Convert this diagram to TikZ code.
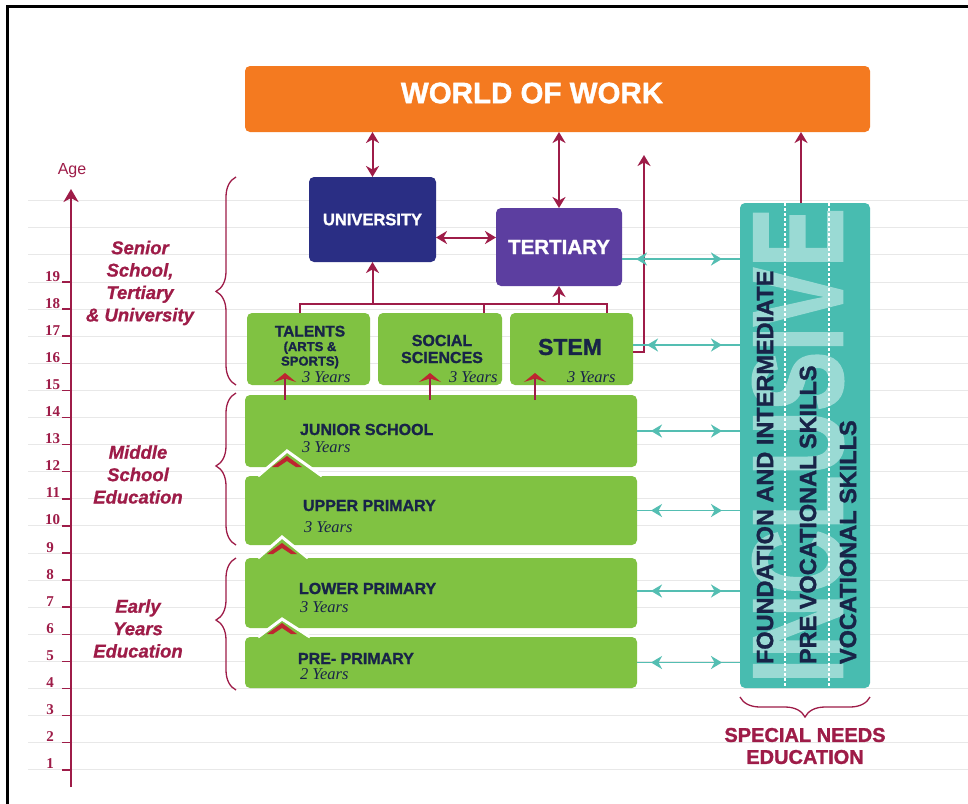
\documentclass[tikz,border=0pt]{standalone}
\usepackage{fontspec}
\setmainfont{Liberation Sans}[BoldFeatures={FakeBold=1.3},BoldItalicFeatures={FakeBold=0.8}]
\newfontfamily\tnr{Liberation Serif}
\usetikzlibrary{arrows.meta,decorations.pathreplacing,decorations.markings,calc}
\definecolor{mar}{RGB}{158,28,72}
\definecolor{orng}{RGB}{244,122,32}
\definecolor{navyb}{RGB}{42,46,132}
\definecolor{purp}{RGB}{92,62,160}
\definecolor{grn}{RGB}{128,194,66}
\definecolor{tl}{RGB}{72,188,176}
\definecolor{tll}{RGB}{84,190,178}
\definecolor{txd}{RGB}{24,36,72}
\definecolor{chev}{RGB}{190,38,48}
\definecolor{gridc}{RGB}{232,232,232}
\begin{document}
\begin{tikzpicture}[x=1pt,y=-1pt,
  every node/.style={inner sep=0pt,outer sep=0pt},
  box/.style={rounded corners=5pt},
  conn/.style={mar,line width=2pt},
  marr/.style={conn,-{Stealth[length=11pt,width=13pt,inset=3.5pt]}},
  darr/.style={conn,{Stealth[length=11pt,width=13pt,inset=3.5pt]}-{Stealth[length=11pt,width=13pt,inset=3.5pt]}},
  uparr/.style={conn,-{Stealth[length=9pt,width=22pt,inset=3.5pt,color=chev]}},
  tarr/.style={color=tll,line width=1.8pt,postaction={decorate,decoration={markings,
     mark=at position 14pt with {\arrowreversed{Stealth[length=11pt,width=13pt,inset=3.5pt]}},
     mark=at position -18pt with {\arrow{Stealth[length=11pt,width=13pt,inset=3.5pt]}}}}},
  brc/.style={mar,line width=1.3pt,decorate},
  sidelab/.style={align=center,text=mar,font=\fontsize{18.5}{22.4}\selectfont\bfseries\itshape},
  btxt/.style={anchor=base west,text=txd,font=\fontsize{16}{16}\selectfont\bfseries},
  yrs/.style={anchor=base west,text=txd,font=\tnr\itshape\fontsize{16.5}{16}\selectfont},
  vtxt/.style={rotate=90,anchor=west,text=txd,font=\fontsize{23.5}{23}\selectfont\bfseries},
  chevf/.style={fill=chev,draw=none},
  peak/.style={fill=grn,draw=none}]
\useasboundingbox (0,0) rectangle (968,803);
\fill[white] (0,0) rectangle (968,803);
% frame
\draw[black,line width=2.2pt] (7.5,812) -- (7.5,6.5) -- (976,6.5);
% grid lines
\foreach \a in {1,...,22}{
  \pgfmathsetmacro\yy{282+(19-\a)*27.1}
  \draw[gridc,line width=1pt] (28,\yy) -- (968,\yy);
}
% age axis
\coordinate (axb) at (71,787);
\coordinate (axt) at (71,189);
\draw[mar,line width=2.5pt,-{Stealth[length=13pt,width=15pt,inset=4pt]}] (axb) -- (axt);
\node[text=mar,font=\fontsize{16}{16}\selectfont] (age) at (72,171) {Age};
\foreach \a in {1,...,19}{
  \pgfmathsetmacro\yy{282+(19-\a)*27.1}
  \draw[mar,line width=1.5pt] (62,\yy) -- (71,\yy);
  \ifnum\a>9
    \node[anchor=base east,text=mar,font=\tnr\bfseries\fontsize{15}{15}\selectfont] (n\a) at (60,\yy-1) {\a};
  \else
    \node[anchor=base,text=mar,font=\tnr\bfseries\fontsize{15}{15}\selectfont] (n\a) at (50,\yy-1) {\a};
  \fi
}
% side labels and braces
\node[sidelab] (lab1) at (140,283) {Senior\\School,\\Tertiary\\\& University};
\node[sidelab] (lab2) at (138,474.5) {Middle\\School\\Education};
\node[sidelab] (lab3) at (138,628.5) {Early\\Years\\Education};
\draw[brc,decoration={brace,amplitude=20pt,aspect=0.45}] (236,385) -- (236,177);
\draw[brc,decoration={brace,amplitude=20pt,aspect=0.52}] (236,545) -- (236,393);
\draw[brc,decoration={brace,amplitude=20pt,aspect=0.53}] (236,690) -- (236,558);

% top boxes
\node[box,fill=orng,minimum width=625pt,minimum height=66pt] (wow) at (557.5,99) {};
\node[text=white,font=\fontsize{29.5}{30}\selectfont\bfseries] (wowt) at (532,93) {WORLD OF WORK};
\node[box,fill=navyb,minimum width=127pt,minimum height=85pt,text=white,font=\fontsize{16.5}{18}\selectfont\bfseries] (uni) at (372.5,219.5) {UNIVERSITY};
\node[box,fill=purp,minimum width=126pt,minimum height=78pt,text=white,font=\fontsize{20.5}{22}\selectfont\bfseries] (ter) at (559,247) {TERTIARY};

% senior boxes
\node[box,fill=grn,minimum width=123pt,minimum height=72pt] (tal) at (308.5,349) {};
\node[box,fill=grn,minimum width=124pt,minimum height=72pt] (soc) at (440,349) {};
\node[box,fill=grn,minimum width=123pt,minimum height=72pt] (stem) at (571.5,349) {};
\node[align=center,text=txd,font=\fontsize{13}{14.5}\selectfont\bfseries] (talt) at (310,347)
  {{\fontsize{15.5}{15}\selectfont TALENTS}\\(ARTS \&\\SPORTS)};
\node[align=center,text=txd,font=\fontsize{16}{17}\selectfont\bfseries] (soct) at (442,349) {SOCIAL\\SCIENCES};
\node[text=txd,font=\fontsize{23}{23}\selectfont\bfseries] (stemt) at (570,347) {STEM};
\node[yrs] (taly) at (302,382) {3 Years};
\node[yrs] (socy) at (449,382) {3 Years};
\node[yrs] (stemy) at (567,382) {3 Years};

% wide boxes with peaks
\node[box,fill=grn,minimum width=392pt,minimum height=72pt] (jun) at (441,431) {};
\node[box,fill=grn,minimum width=392pt,minimum height=69pt] (upp) at (441,510.5) {};
\fill[peak] (258,478) -- (287,451) -- (322,478) -- cycle;
\draw[white,line width=3pt] (258,476) -- (287,451) -- (322,476);
\fill[chevf] (272,467) -- (287,456) -- (302,467) -- (296,467) -- (287,461) -- (278,467) -- cycle;
\node[box,fill=grn,minimum width=392pt,minimum height=70pt] (low) at (441,593) {};
\fill[peak] (258,560) -- (282,537) -- (308,560) -- cycle;
\draw[white,line width=3pt] (258,558) -- (282,537) -- (308,558);
\fill[chevf] (267,554) -- (282,543) -- (297,554) -- (291,554) -- (282,548) -- (273,554) -- cycle;
\node[box,fill=grn,minimum width=392pt,minimum height=51pt] (pre) at (441,662.5) {};
\fill[peak] (258,639) -- (282,619) -- (310,639) -- cycle;
\draw[white,line width=3pt] (258,637) -- (282,619) -- (310,637);
\fill[chevf] (267,634) -- (282,623) -- (297,634) -- (291,634) -- (282,628) -- (273,634) -- cycle;

\node[btxt] (junt) at (300,435) {JUNIOR SCHOOL};
\node[yrs] (juny) at (302,452) {3 Years};
\node[btxt] (uppt) at (303,511) {UPPER PRIMARY};
\node[yrs] (uppy) at (304,532) {3 Years};
\node[btxt] (lowt) at (299,594) {LOWER PRIMARY};
\node[yrs] (lowy) at (300,612) {3 Years};
\node[btxt] (pret) at (298,664) {PRE- PRIMARY};
\node[yrs] (prey) at (300,679) {2 Years};

% special needs box
\node[box,fill=tl,minimum width=130pt,minimum height=485pt] (sn) at (805,445.5) {};
\node[rotate=90,text=tl!55!white] (incl) at (798,445.5) {\resizebox{475pt}{90pt}{\bfseries INCLUSIVE}};
\draw[white,line width=1.6pt,dash pattern=on 2.5pt off 2.5pt] ([xshift=-20pt]sn.north) -- ([xshift=-20pt]sn.south);
\draw[white,line width=1.6pt,dash pattern=on 2.5pt off 2.5pt] ([xshift=24pt]sn.north) -- ([xshift=24pt]sn.south);
\node[vtxt] (fit) at (765,664) {FOUNDATION AND INTERMEDIATE};
\node[vtxt] (pvs) at (808,664) {PRE VOCATIONAL SKILLS};
\node[vtxt] (vs) at (848,664) {VOCATIONAL SKILLS};
\draw[brc,decoration={brace,amplitude=20pt}] (870,697) -- (740,697);
\node[align=center,text=mar,font=\fontsize{20}{22}\selectfont\bfseries] (snl) at (805,746) {SPECIAL NEEDS\\EDUCATION};

% maroon connectors
\draw[darr] (uni.north) -- (uni.north |- wow.south);
\draw[darr] (ter.north) -- (ter.north |- wow.south);
\draw[darr] ([yshift=-18pt]uni.east) -- ([yshift=-18pt]uni.east -| ter.west);
\coordinate (st) at (644,155);
\draw[marr] ([yshift=-3pt]stem.east) -| (st);
\draw[marr] ([xshift=-4pt]sn.north) -- ([xshift=-4pt]sn.north |- wow.south);
\coordinate (b1) at (300,304);
\coordinate (b2) at (607,304);
\coordinate (b3) at (484,304);
\draw[conn] (b1 |- tal.north) -- (b1) -- (b2) -- (b2 |- stem.north);
\draw[conn] (b3) -- (b3 |- soc.north);
\draw[marr] (uni.south |- b1) -- (uni.south);
\draw[marr] (ter.south |- b1) -- (ter.south);
\coordinate (u1) at (285,373);
\coordinate (u2) at (430,373);
\coordinate (u3) at (535,373);
\draw[uparr] ([yshift=-5pt]u1 |- jun.north) -- (u1);
\draw[uparr] ([yshift=-5pt]u2 |- jun.north) -- (u2);
\draw[uparr] ([yshift=-5pt]u3 |- jun.north) -- (u3);

% teal connectors
\draw[tarr] ([yshift=-12pt]ter.east) -- ([yshift=-12pt]ter.east -| sn.west);
\draw[tarr] ([yshift=4pt]stem.east) -- ([yshift=4pt]stem.east -| sn.west);
\draw[tarr] (jun.east) -- (jun.east -| sn.west);
\draw[tarr] (upp.east) -- (upp.east -| sn.west);
\draw[tarr] ([yshift=2pt]low.east) -- ([yshift=2pt]low.east -| sn.west);
\draw[tarr] (pre.east) -- (pre.east -| sn.west);
\end{tikzpicture}
\end{document}
